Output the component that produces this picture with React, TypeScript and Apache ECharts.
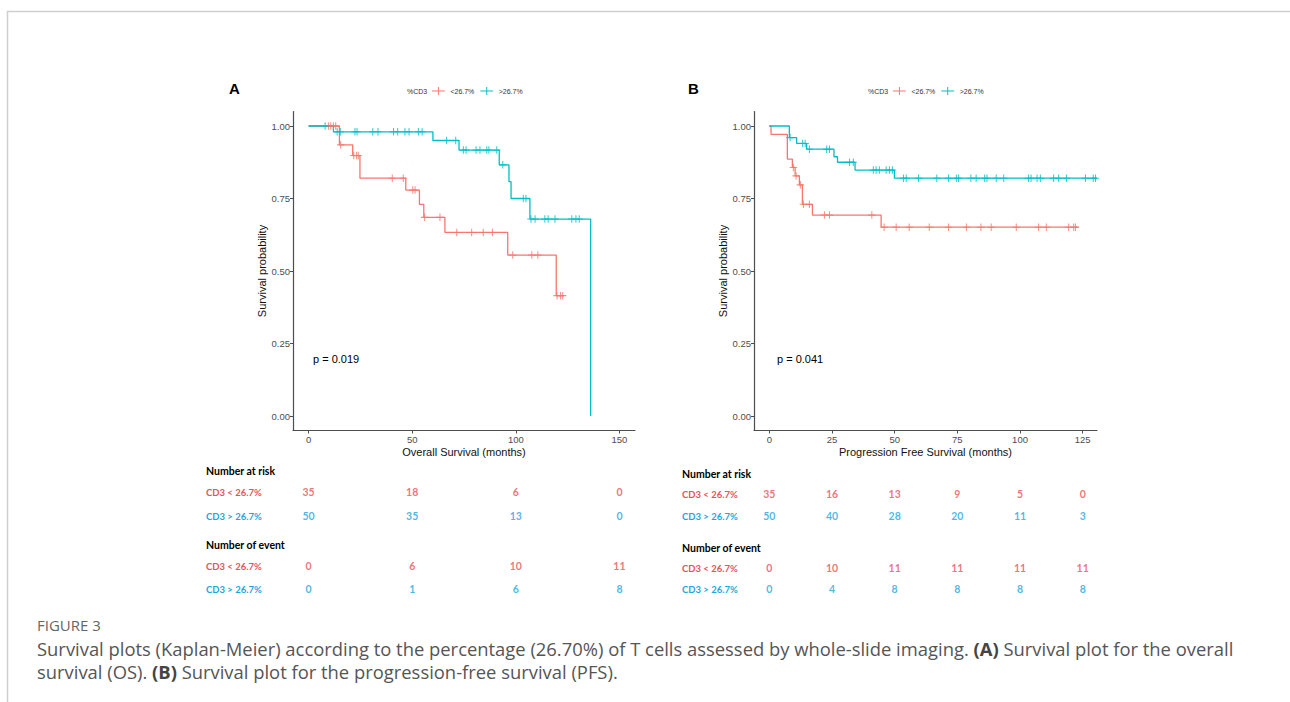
import React, { useEffect, useRef } from 'react';
import * as echarts from 'echarts';

const RED = '#F8766D';
const CYAN = '#00BFC4';
const TABLE_RED = '#E5535A';
const TABLE_BLUE = '#1FA6DB';

const groupNames = ['<26.7%', '>26.7%'];
const rowLabels = ['CD3 < 26.7%', 'CD3 > 26.7%'];

// Panel A – Overall survival: step points [time, survival after event]
const osLowSteps: [number, number][] = [
  [0, 1], [14.9, 0.935], [21.3, 0.898], [24.8, 0.82], [46.9, 0.779], [53.5, 0.73],
  [55.6, 0.685], [65.8, 0.633], [96.1, 0.555], [119.5, 0.415], [123.3, 0.415],
];
const osLowCensor = [
  9.6, 10.7, 12, 13.1, 15.5, 21.8, 23.2, 24, 40.4, 45.7, 50.3, 51.4, 56, 63.4,
  71.5, 78.7, 84.3, 88.7, 98.5, 107.7, 110.6, 119.9, 121.6, 122.6,
];
const osHighSteps: [number, number][] = [
  [0, 1], [12, 0.98], [60, 0.95], [72.6, 0.917], [92, 0.866], [96.7, 0.808],
  [97.7, 0.75], [106.8, 0.679], [136.1, 0],
];
const osHighCensor = [
  8, 13.8, 15.3, 22.4, 23.4, 31, 33.5, 41, 43, 46.5, 48.5, 53, 54.8, 66.6, 71,
  74.7, 76, 80.8, 82.7, 86, 87, 90.8, 93.7, 103.6, 104.9, 107.3, 109.3, 114,
  115.6, 118.9, 127, 129, 130.6,
];

// Panel B – Progression free survival
const pfsLowSteps: [number, number][] = [
  [0, 1], [0.7, 0.971], [7.2, 0.886], [9.2, 0.857], [10.3, 0.828], [12.0, 0.797],
  [13.2, 0.73], [17.2, 0.693], [44.6, 0.651], [123.4, 0.651],
];
const pfsLowCensor = [
  9.6, 10.7, 12.4, 13.6, 16, 22, 24, 40.9, 45.8, 50.6, 55.8, 63.8, 71.5, 78.6,
  84.4, 88.5, 98.5, 107.4, 110.5, 119.4, 121.4, 122.1,
];
const pfsHighSteps: [number, number][] = [
  [0, 1], [8, 0.96], [10.9, 0.94], [14.9, 0.92], [25.8, 0.894], [27.2, 0.875],
  [34.2, 0.848], [49.9, 0.82], [130.7, 0.82],
];
const pfsHighCensor = [
  8.3, 13.3, 14.3, 16, 22.9, 24, 32, 33.5, 41.5, 42.6, 43.9, 46.6, 47.9, 49.1,
  53.5, 54.6, 59.5, 66.8, 71.5, 74.6, 75.5, 80.4, 82.5, 85.9, 86.8, 90.5, 93.5,
  103.4, 104.4, 106.8, 108.1, 113.4, 115.4, 118.5, 126.1, 129.2, 130.1,
];

// Tables
const osTimes = [0, 50, 100, 150];
const osRiskLow = [35, 18, 6, 0];
const osRiskHigh = [50, 35, 13, 0];
const osEventLow = [0, 6, 10, 11];
const osEventHigh = [0, 1, 6, 8];

const pfsTimes = [0, 25, 50, 75, 100, 125];
const pfsRiskLow = [35, 16, 13, 9, 5, 0];
const pfsRiskHigh = [50, 40, 28, 20, 11, 3];
const pfsEventLow = [0, 10, 11, 11, 11, 11];
const pfsEventHigh = [0, 4, 8, 8, 8, 8];

const yTicks = [0, 0.25, 0.5, 0.75, 1];

const FONT = "'Liberation Sans', Arial, sans-serif";
const TFONT = "Lato, 'Liberation Sans', sans-serif";
const CFONT = "'Open Sans', 'Noto Sans', sans-serif";

const PLUS = 'path://M4.3,0H5.7V4.3H10V5.7H5.7V10H4.3V5.7H0V4.3H4.3Z';
const LEGEND_ICON = 'path://M0,4.4H16V5.6H0Z M7.4,0H8.6V10H7.4Z';

function survAt(steps: [number, number][], t: number) {
  let s = steps[0][1];
  for (const [tt, v] of steps) if (tt <= t) s = v;
  return s;
}

function mainX(gi: number, min: number, max: number, ticks: number[], name: string) {
  return {
    type: 'value', gridIndex: gi, min, max,
    axisLine: { show: true, onZero: false, lineStyle: { color: '#4d4d4d', width: 1.2 } },
    axisTick: { show: true, length: 3, customValues: ticks, lineStyle: { color: '#4d4d4d' } },
    axisLabel: { customValues: ticks, fontSize: 9.5, color: '#4d4d4d', margin: 4, fontFamily: FONT },
    splitLine: { show: false },
    name, nameLocation: 'middle', nameGap: 16,
    nameTextStyle: { fontSize: 11, color: '#111', fontFamily: FONT },
  };
}
function mainY(gi: number) {
  return {
    type: 'value', gridIndex: gi, min: -0.05, max: 1.05,
    axisLine: { show: true, onZero: false, lineStyle: { color: '#4d4d4d', width: 1.2 } },
    axisTick: { show: true, length: 3, customValues: yTicks, lineStyle: { color: '#4d4d4d' } },
    axisLabel: {
      customValues: yTicks, fontSize: 9.5, color: '#4d4d4d', margin: 3, fontFamily: FONT,
      formatter: (v: number) => v.toFixed(2),
    },
    splitLine: { show: false },
    name: 'Survival probability', nameLocation: 'middle', nameGap: 26,
    nameTextStyle: { fontSize: 11, color: '#111', fontFamily: FONT },
  };
}
function tableX(gi: number, min: number, max: number) {
  return { type: 'value', gridIndex: gi, min, max, show: false };
}
function tableY(gi: number) {
  return { type: 'category', gridIndex: gi, data: ['low', 'high'], inverse: true, show: false };
}

function kmLine(name: string, steps: [number, number][], color: string, ai: number) {
  return {
    type: 'line', name, xAxisIndex: ai, yAxisIndex: ai, data: steps, step: 'end',
    symbol: 'none', lineStyle: { color, width: 1.3 }, itemStyle: { color }, z: 3,
  };
}
function censor(name: string, steps: [number, number][], times: number[], color: string, ai: number) {
  return {
    type: 'scatter', name, xAxisIndex: ai, yAxisIndex: ai,
    data: times.map((t) => [t, survAt(steps, t)]),
    symbol: PLUS, symbolSize: 7.5, itemStyle: { color }, z: 4,
  };
}
function tableRow(times: number[], vals: number[], row: string, color: string, ai: number) {
  return {
    type: 'scatter', xAxisIndex: ai, yAxisIndex: ai,
    data: times.map((t, i) => [t, row, vals[i]]),
    symbolSize: 1, itemStyle: { color: 'rgba(0,0,0,0)' }, silent: true,
    label: {
      show: true, position: 'inside', formatter: (p: any) => String(p.value[2]),
      color, fontSize: 10.5, fontWeight: 'bold', fontFamily: TFONT,
    },
  };
}

function txt(x: number, y: number, text: string, fill: string, fontSize: number, bold = false, fontFamily = FONT, align = 'left') {
  return {
    type: 'text', x, y, silent: true,
    style: { text, fill, fontSize, fontWeight: bold ? 'bold' : 'normal', fontFamily, align, verticalAlign: 'middle' },
  };
}

const CAP = 18.4;
const CAP_X = 37;

export default function App() {
  const ref = useRef<HTMLDivElement>(null);
  useEffect(() => {
    document.body.style.margin = '0';
    const chart = echarts.init(ref.current!, null, { renderer: 'svg' });

    const legendCommon = {
      top: 87, orient: 'horizontal', itemWidth: 14, itemHeight: 8, itemGap: 6, padding: 0,
      textStyle: { fontSize: 7, color: '#333', fontFamily: FONT },
      selectedMode: false,
      data: groupNames.map((n) => ({ name: n, icon: LEGEND_ICON })),
    };

    const option: any = {
      animation: false,
      backgroundColor: '#fff',
      legend: [
        { ...legendCommon, left: 432 },
        { ...legendCommon, left: 893 },
      ],
      grid: [
        { left: 293, top: 111.5, width: 342, height: 319 },
        { left: 754, top: 111.5, width: 343, height: 319 },
        { left: 293, top: 480.6, width: 342, height: 46.8 },
        { left: 293, top: 554, width: 342, height: 46.6 },
        { left: 754, top: 483, width: 343, height: 44 },
        { left: 754, top: 557, width: 343, height: 43 },
      ],
      xAxis: [
        mainX(0, -7.5, 157.5, osTimes, 'Overall Survival (months)'),
        mainX(1, -6.1, 130.7, pfsTimes, 'Progression Free Survival (months)'),
        tableX(2, -7.5, 157.5),
        tableX(3, -7.5, 157.5),
        tableX(4, -6.1, 130.7),
        tableX(5, -6.1, 130.7),
      ],
      yAxis: [mainY(0), mainY(1), tableY(2), tableY(3), tableY(4), tableY(5)],
      series: [
        kmLine(groupNames[0], osLowSteps, RED, 0),
        kmLine(groupNames[1], osHighSteps, CYAN, 0),
        censor('os-low-censor', osLowSteps, osLowCensor, RED, 0),
        censor('os-high-censor', osHighSteps, osHighCensor, CYAN, 0),
        kmLine(groupNames[0], pfsLowSteps, RED, 1),
        kmLine(groupNames[1], pfsHighSteps, CYAN, 1),
        censor('pfs-low-censor', pfsLowSteps, pfsLowCensor, RED, 1),
        censor('pfs-high-censor', pfsHighSteps, pfsHighCensor, CYAN, 1),
        tableRow(osTimes, osRiskLow, 'low', TABLE_RED, 2),
        tableRow(osTimes, osRiskHigh, 'high', TABLE_BLUE, 2),
        tableRow(osTimes, osEventLow, 'low', TABLE_RED, 3),
        tableRow(osTimes, osEventHigh, 'high', TABLE_BLUE, 3),
        tableRow(pfsTimes, pfsRiskLow, 'low', TABLE_RED, 4),
        tableRow(pfsTimes, pfsRiskHigh, 'high', TABLE_BLUE, 4),
        tableRow(pfsTimes, pfsEventLow, 'low', TABLE_RED, 5),
        tableRow(pfsTimes, pfsEventHigh, 'high', TABLE_BLUE, 5),
      ],
      graphic: [
        { type: 'line', silent: true, shape: { x1: 7, y1: 11.5, x2: 1290, y2: 11.5 }, style: { stroke: '#cfcfcf', lineWidth: 1.5 } },
        { type: 'line', silent: true, shape: { x1: 7.5, y1: 11, x2: 7.5, y2: 702 }, style: { stroke: '#cfcfcf', lineWidth: 1.5 } },
        txt(229, 88, 'A', '#000', 15, true),
        txt(688, 88, 'B', '#000', 15, true),
        txt(407, 91, '%CD3', '#333', 7),
        txt(868, 91, '%CD3', '#333', 7),
        txt(313, 359, 'p = 0.019', '#000', 11),
        txt(777, 359, 'p = 0.041', '#000', 11),
        // Table headers & row labels – panel A
        txt(206, 471, 'Number at risk', '#000', 10.5, true, TFONT),
        txt(206, 492.5, rowLabels[0], TABLE_RED, 9.5, true, TFONT),
        txt(206, 516, rowLabels[1], TABLE_BLUE, 9.5, true, TFONT),
        txt(206, 544.5, 'Number of event', '#000', 10.5, true, TFONT),
        txt(206, 566, rowLabels[0], TABLE_RED, 9.5, true, TFONT),
        txt(206, 589.5, rowLabels[1], TABLE_BLUE, 9.5, true, TFONT),
        // panel B
        txt(682, 474, 'Number at risk', '#000', 10.5, true, TFONT),
        txt(682, 494.5, rowLabels[0], TABLE_RED, 9.5, true, TFONT),
        txt(682, 516, rowLabels[1], TABLE_BLUE, 9.5, true, TFONT),
        txt(682, 548, 'Number of event', '#000', 10.5, true, TFONT),
        txt(682, 568, rowLabels[0], TABLE_RED, 9.5, true, TFONT),
        txt(682, 589.5, rowLabels[1], TABLE_BLUE, 9.5, true, TFONT),
        // Caption
        txt(CAP_X, 625, 'FIGURE 3', '#666', 15, false, CFONT),
        {
          type: 'text', x: CAP_X, y: 648, silent: true,
          style: {
            text: '{n|Survival plots (Kaplan-Meier) according to the percentage (26.70%) of T cells assessed by whole-slide imaging. }{b|(A)}{n| Survival plot for the overall}',
            verticalAlign: 'middle', align: 'left',
            rich: {
              n: { fontSize: CAP, fill: '#555', fontFamily: CFONT },
              b: { fontSize: CAP, fill: '#444', fontFamily: CFONT, fontWeight: 'bold' },
            },
          },
        },
        {
          type: 'text', x: CAP_X, y: 671, silent: true,
          style: {
            text: '{n|survival (OS). }{b|(B)}{n| Survival plot for the progression-free survival (PFS).}',
            verticalAlign: 'middle', align: 'left',
            rich: {
              n: { fontSize: CAP, fill: '#555', fontFamily: CFONT },
              b: { fontSize: CAP, fill: '#444', fontFamily: CFONT, fontWeight: 'bold' },
            },
          },
        },
      ],
    };

    chart.setOption(option);
    return () => chart.dispose();
  }, []);
  return <div ref={ref} style={{ width: 1290, height: 702 }} />;
}
